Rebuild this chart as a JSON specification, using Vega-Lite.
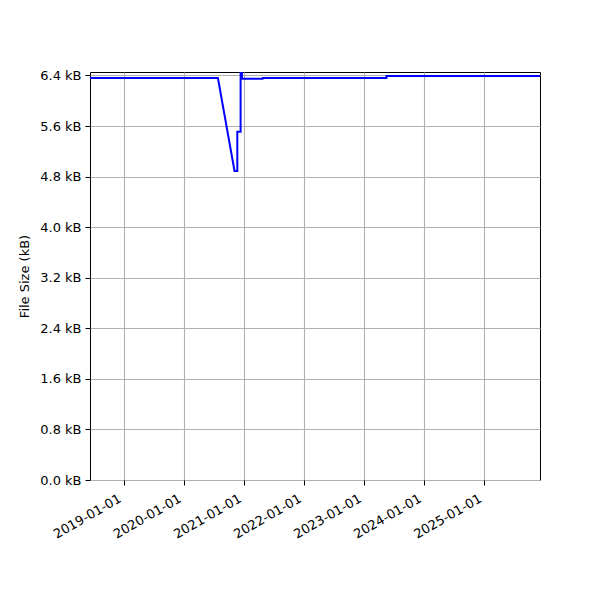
{
  "$schema": "https://vega.github.io/schema/vega-lite/v6.json",
  "width": 450,
  "height": 408,
  "autosize": {"type": "none"},
  "padding": {"left": 90, "top": 72, "right": 60, "bottom": 120},
  "background": "white",
  "config": {
    "font": "DejaVu Sans",
    "view": {"stroke": "black", "strokeWidth": 1},
    "axis": {
      "labelFont": "DejaVu Sans",
      "titleFont": "DejaVu Sans",
      "labelFontSize": 13,
      "titleFontSize": 13,
      "titleFontWeight": "normal",
      "labelColor": "black",
      "titleColor": "black",
      "tickColor": "black",
      "tickSize": 5,
      "domain": false,
      "gridColor": "#b0b0b0",
      "gridWidth": 1.1,
      "gridOpacity": 1
    }
  },
  "data": {
    "values": [
      {"i": 0, "date": "2018-06-10", "kb": 6.36},
      {"i": 1, "date": "2020-07-27", "kb": 6.36},
      {"i": 2, "date": "2020-11-05", "kb": 4.89},
      {"i": 3, "date": "2020-11-22", "kb": 4.89},
      {"i": 4, "date": "2020-11-22", "kb": 5.51},
      {"i": 5, "date": "2020-12-12", "kb": 5.51},
      {"i": 6, "date": "2020-12-12", "kb": 6.6},
      {"i": 7, "date": "2020-12-20", "kb": 6.6},
      {"i": 8, "date": "2020-12-20", "kb": 6.35},
      {"i": 9, "date": "2021-04-25", "kb": 6.35},
      {"i": 10, "date": "2021-04-26", "kb": 6.36},
      {"i": 11, "date": "2023-05-18", "kb": 6.36},
      {"i": 12, "date": "2023-05-18", "kb": 6.39},
      {"i": 13, "date": "2025-12-07", "kb": 6.39}
    ]
  },
  "mark": {"type": "line", "color": "#0000ff", "strokeWidth": 2, "clip": true, "strokeJoin": "miter"},
  "encoding": {
    "x": {
      "field": "date",
      "type": "temporal",
      "scale": {
        "type": "utc",
        "domain": [
          {"year": 2018, "month": 6, "date": 10, "utc": true},
          {"year": 2025, "month": 12, "date": 7, "utc": true}
        ]
      },
      "axis": {
        "title": null,
        "values": [1546300800000, 1577836800000, 1609459200000, 1640995200000, 1672531200000, 1704067200000, 1735689600000],
        "labelExpr": "utcFormat(datum.value, '%Y-%m-%d')",
        "labelAngle": -30,
        "labelAlign": "right",
        "labelBaseline": "top",
        "labelPadding": 7,
        "labelOffset": -7,
        "labelFlush": false,
        "labelOverlap": false
      }
    },
    "y": {
      "field": "kb",
      "type": "quantitative",
      "scale": {"domain": [0, 6.455], "nice": false, "zero": false},
      "axis": {
        "title": "File Size (kB)",
        "values": [0, 0.8, 1.6, 2.4, 3.2, 4.0, 4.8, 5.6, 6.4],
        "labelExpr": "format(datum.value, '.1f') + ' kB'",
        "labelPadding": 4,
        "titlePadding": 8,
        "labelFlush": false,
        "labelOverlap": false
      }
    },
    "order": {"field": "i", "type": "quantitative"}
  }
}
